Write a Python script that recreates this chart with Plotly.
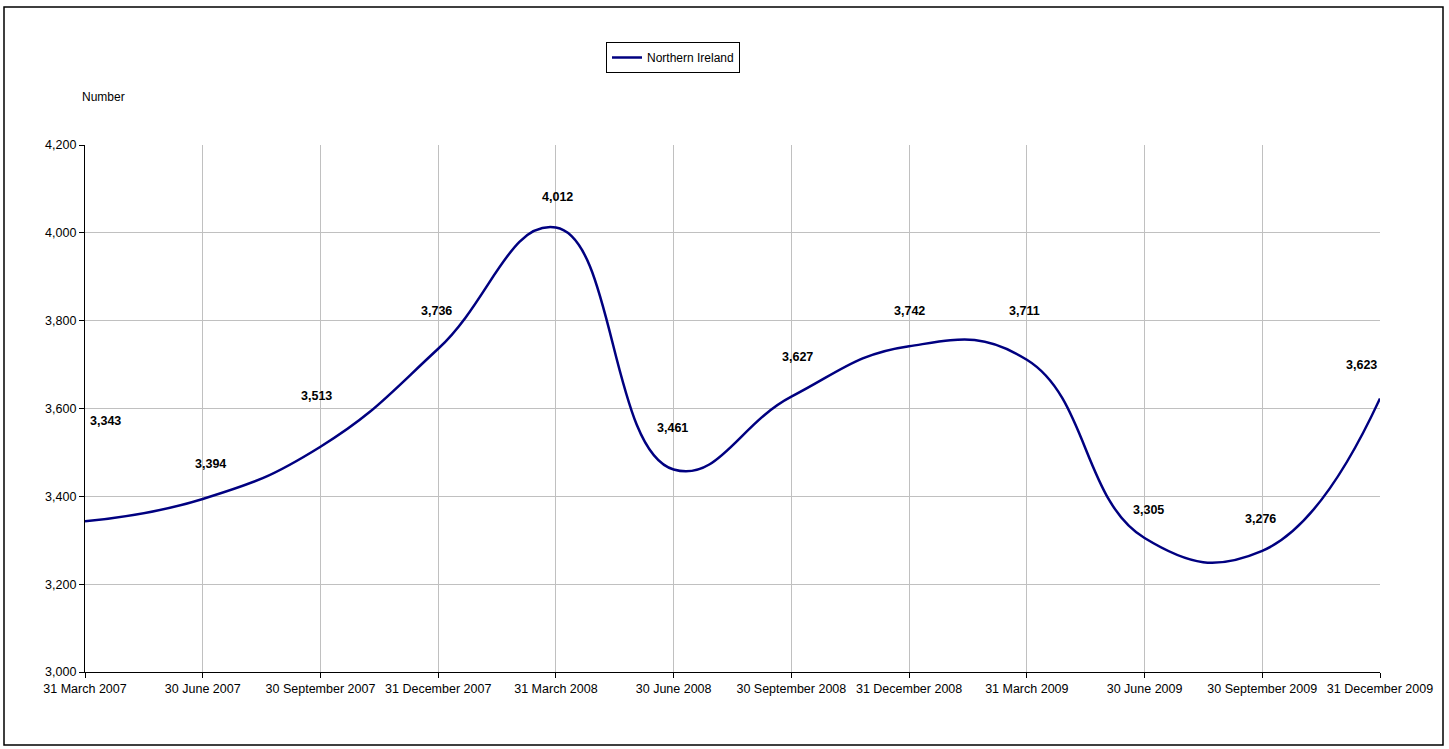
import plotly.graph_objects as go

categories = ["31 March 2007", "30 June 2007", "30 September 2007", "31 December 2007",
              "31 March 2008", "30 June 2008", "30 September 2008", "31 December 2008",
              "31 March 2009", "30 June 2009", "30 September 2009", "31 December 2009"]
values = [3343, 3394, 3513, 3736, 4012, 3461, 3627, 3742, 3711, 3305, 3276, 3623]
series_name = "Northern Ireland"
y_ticks = [3000, 3200, 3400, 3600, 3800, 4000, 4200]

# per-label vertical/horizontal pixel offsets (style only)
label_dy = [100, 35, 51, 38, 31, 42, 40, 35, 49, 28, 32, 33]
label_dx = [20, 8, -4, -2, 2, -1, 6, 0, -2, 4, -2, -19]

FONT = "Liberation Sans, Arial, sans-serif"

x_idx = list(range(len(categories)))

fig = go.Figure()
fig.add_trace(go.Scatter(
    x=x_idx, y=values, mode="lines", name=series_name,
    line=dict(color="#000080", width=2.5, shape="spline", smoothing=1.3),
    showlegend=True,
))

for i, v in enumerate(values):
    fig.add_annotation(x=x_idx[i], y=v, xref="x", yref="y", text=f"<b>{v:,}</b>",
                       showarrow=False, yshift=label_dy[i], xshift=label_dx[i],
                       font=dict(family=FONT, size=12.5, color="black"),
                       xanchor="center", yanchor="middle")

fig.add_annotation(x=(80 - 85) / 1295, y=(672 - 97) / 527, xref="paper", yref="paper",
                   text="Number", showarrow=False, xanchor="left", yanchor="middle",
                   font=dict(family=FONT, size=12, color="black"))

# outer border
fig.add_shape(type="rect", xref="paper", yref="paper",
              x0=(4 - 85) / 1295, x1=(1443 - 85) / 1295,
              y0=(672 - 745) / 527, y1=(672 - 7) / 527,
              line=dict(color="black", width=1.5), fillcolor="rgba(0,0,0,0)", layer="below")

fig.update_layout(
    width=1449, height=749,
    margin=dict(l=85, r=69, t=145, b=77),
    paper_bgcolor="white", plot_bgcolor="white",
    font=dict(family=FONT, size=12, color="black"),
    legend=dict(x=(606 - 85) / 1295, y=(672 - 42) / 527, xanchor="left", yanchor="top",
                bordercolor="black", borderwidth=1, bgcolor="white",
                font=dict(family=FONT, size=12), itemwidth=30,
                tracegroupgap=0),
    showlegend=True,
)
fig.update_xaxes(range=[0, 11], tickmode="array", tickvals=x_idx, ticktext=categories,
                 showgrid=True, gridcolor="#C0C0C0", gridwidth=1,
                 showline=True, linecolor="black", linewidth=1.2,
                 ticks="outside", ticklen=5, tickcolor="black", zeroline=False,
                 tickangle=0, tickfont=dict(family=FONT, size=12.5))
fig.update_yaxes(range=[3000, 4200], tickmode="array", tickvals=y_ticks,
                 ticktext=[f"{t:,}" for t in y_ticks],
                 showgrid=True, gridcolor="#C0C0C0", gridwidth=1,
                 showline=True, linecolor="black", linewidth=1.2,
                 ticks="outside", ticklen=5, tickcolor="black", zeroline=False,
                 tickfont=dict(family=FONT, size=12.5))

fig.write_html("out.html", config={"displayModeBar": False},
               post_script="document.body.style.margin='0px';")
